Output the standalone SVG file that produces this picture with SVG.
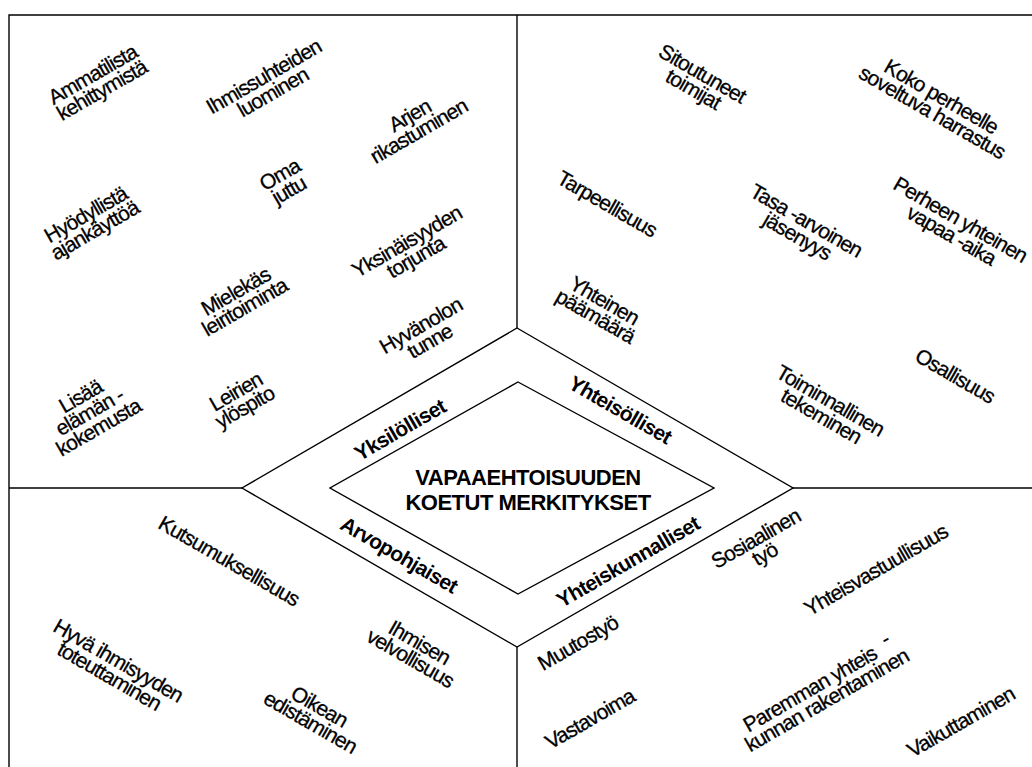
<svg xmlns="http://www.w3.org/2000/svg" width="1032" height="767" viewBox="0 0 1032 767">
<style>
.ln{fill:none;stroke:#000;stroke-width:1.4}
.t{font-family:"Liberation Sans",Arial,sans-serif;font-size:21px;letter-spacing:-0.9px;fill:#000;stroke:#000;stroke-width:0.3;text-anchor:middle}
.b{font-family:"Liberation Sans",Arial,sans-serif;font-size:21px;font-weight:bold;letter-spacing:-0.7px;fill:#000;text-anchor:middle}
.c{font-family:"Liberation Sans",Arial,sans-serif;font-size:22px;font-weight:bold;letter-spacing:-0.5px;fill:#000;text-anchor:middle}
</style>
<rect width="1032" height="767" fill="#fff"/>
<g id="connectors">
<polyline class="ln" points="9,767 9,15 1032,15"/>
<line class="ln" x1="517" y1="15" x2="517" y2="328"/>
<line class="ln" x1="9" y1="488" x2="242" y2="488"/>
<line class="ln" x1="793" y1="488" x2="1032" y2="488"/>
<line class="ln" x1="517" y1="647" x2="517" y2="767"/>
</g>
<g id="outer-hexagon">
<polygon class="ln" points="517,328 793,488 517,647 242,488"/>
</g>
<g id="center">
<polygon class="ln" points="518,382 714,488 518,594 330,488"/>
<text class="c" x="528" y="485">VAPAAEHTOISUUDEN</text>
<text class="c" x="528" y="510">KOETUT MERKITYKSET</text>
</g>
<g id="yksilolliset">
<text class="b" transform="translate(400,430) rotate(-30)" y="7">Yksilölliset</text>
<text class="t" transform="translate(97,82) rotate(-30)"><tspan x="0" y="-1.5">Ammatilista</tspan><tspan x="0" y="16.5">kehittymistä</tspan></text>
<text class="t" transform="translate(268,84) rotate(-30)"><tspan x="0" y="-1.5">Ihmissuhteiden</tspan><tspan x="0" y="16.5">luominen</tspan></text>
<text class="t" transform="translate(414,123) rotate(-30)"><tspan x="0" y="-1.5">Arjen</tspan><tspan x="0" y="16.5">rikastuminen</tspan></text>
<text class="t" transform="translate(284,182) rotate(-30)"><tspan x="0" y="-1.5">Oma</tspan><tspan x="0" y="16.5">juttu</tspan></text>
<text class="t" transform="translate(90,222) rotate(-30)"><tspan x="0" y="-1.5">Hyödyllistä</tspan><tspan x="0" y="16.5">ajankäyttöä</tspan></text>
<text class="t" transform="translate(411,249) rotate(-30)"><tspan x="0" y="-1.5">Yksinäisyyden</tspan><tspan x="0" y="16.5">torjunta</tspan></text>
<text class="t" transform="translate(240,299) rotate(-30)"><tspan x="0" y="-1.5">Mielekäs</tspan><tspan x="0" y="16.5">leiritoiminta</tspan></text>
<text class="t" transform="translate(425,333) rotate(-30)"><tspan x="0" y="-1.5">Hyvänolon</tspan><tspan x="0" y="16.5">tunne</tspan></text>
<text class="t" transform="translate(89,411) rotate(-30)"><tspan x="0" y="-10">Lisää</tspan><tspan x="0" y="8">elämän -</tspan><tspan x="0" y="26">kokemusta</tspan></text>
<text class="t" transform="translate(240,399) rotate(-30)"><tspan x="0" y="-1.5">Leirien</tspan><tspan x="0" y="16.5">ylöspito</tspan></text>
</g>
<g id="yhteisolliset">
<text class="b" transform="translate(620,410) rotate(30)" y="7">Yhteisölliset</text>
<text class="t" transform="translate(698,81) rotate(30)"><tspan x="0" y="-1.5">Sitoutuneet</tspan><tspan x="0" y="16.5">toimijat</tspan></text>
<text class="t" transform="translate(937,104) rotate(30)"><tspan x="0" y="-1.5">Koko perheelle</tspan><tspan x="0" y="16.5">soveltuva harrastus</tspan></text>
<text class="t" transform="translate(607,204) rotate(30)" y="7">Tarpeellisuus</text>
<text class="t" transform="translate(802,228) rotate(30)"><tspan x="0" y="-1.5">Tasa -arvoinen</tspan><tspan x="0" y="16.5">jäsenyys</tspan></text>
<text class="t" transform="translate(956,227) rotate(30)"><tspan x="0" y="-1.5">Perheen yhteinen</tspan><tspan x="0" y="16.5">vapaa -aika</tspan></text>
<text class="t" transform="translate(600,308) rotate(30)"><tspan x="0" y="-1.5">Yhteinen</tspan><tspan x="0" y="16.5">päämäärä</tspan></text>
<text class="t" transform="translate(955,376) rotate(30)" y="7">Osallisuus</text>
<text class="t" transform="translate(826,408) rotate(30)"><tspan x="0" y="-1.5">Toiminnallinen</tspan><tspan x="0" y="16.5">tekeminen</tspan></text>
</g>
<g id="arvopohjaiset">
<text class="b" transform="translate(399,555) rotate(30)" y="7">Arvopohjaiset</text>
<text class="t" transform="translate(229,561) rotate(30)" y="7">Kutsumuksellisuus</text>
<text class="t" transform="translate(415,650) rotate(30)"><tspan x="0" y="-1.5">Ihmisen</tspan><tspan x="0" y="16.5">velvollisuus</tspan></text>
<text class="t" transform="translate(114,668) rotate(30)"><tspan x="0" y="-1.5">Hyvä ihmisyyden</tspan><tspan x="0" y="16.5">toteuttaminen</tspan></text>
<text class="t" transform="translate(315,714) rotate(30)"><tspan x="0" y="-1.5">Oikean</tspan><tspan x="0" y="16.5">edistäminen</tspan></text>
</g>
<g id="yhteiskunnalliset">
<text class="b" transform="translate(628,562) rotate(-30)" y="7">Yhteiskunnalliset</text>
<text class="t" transform="translate(760,546) rotate(-30)"><tspan x="0" y="-1.5">Sosiaalinen</tspan><tspan x="0" y="16.5">työ</tspan></text>
<text class="t" transform="translate(876,570) rotate(-30)" y="7">Yhteisvastuullisuus</text>
<text class="t" transform="translate(578,643) rotate(-30)" y="7">Muutostyö</text>
<text class="t" transform="translate(590,719) rotate(-30)" y="7">Vastavoima</text>
<text class="t" transform="translate(822,692) rotate(-30)"><tspan x="0" y="-1.5">Paremman yhteis<tspan dx="12" dy="-6">-</tspan></tspan><tspan x="0" y="16.5">kunnan rakentaminen</tspan></text>
<text class="t" transform="translate(961,722) rotate(-30)" y="7">Vaikuttaminen</text>
</g>
</svg>
